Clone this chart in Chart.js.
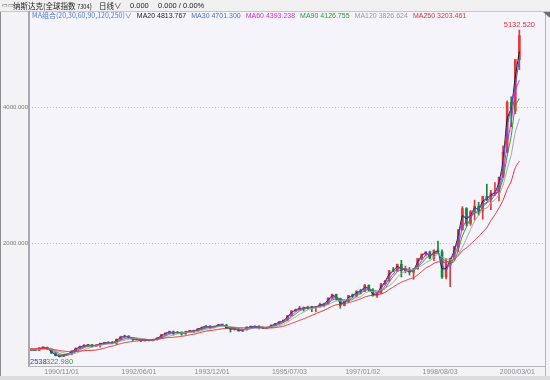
<!DOCTYPE html>
<html>
<head>
<meta charset="utf-8">
<script src="https://cdn.jsdelivr.net/npm/chart.js@4.4.1/dist/chart.umd.min.js"></script>
<style>
  html, body { margin: 0; padding: 0; background: #f3f3f6; }
  #wrap { position: relative; width: 550px; height: 380px; overflow: hidden; }
  canvas { position: absolute; left: 0; top: 0; }
  .t { position: absolute; white-space: nowrap; line-height: 1; font-family: "Liberation Sans", "Noto Sans CJK SC", sans-serif; }
  .cjk { font-family: "Noto Sans CJK SC", "Liberation Sans", sans-serif; }
  #legend { position: absolute; left: 32px; top: 12px; display: flex; gap: 5px; font-size: 7px; }
</style>
</head>
<body>
<div id="wrap">
  <canvas id="c" width="550" height="380"></canvas>
  <div class="t" style="left:2px;top:2px;font-size:6px;color:#666;">▭▭</div>
  <div class="t cjk" style="left:13px;top:1.5px;font-size:7.5px;color:#222;">纳斯达克(全球指数 <span style="font-size:5.5px">7304</span>)</div>
  <div class="t cjk" style="left:99px;top:1.5px;font-size:7.5px;color:#222;">日线∨</div>
  <div class="t" style="left:130px;top:2px;font-size:7.5px;color:#222;">0.000</div>
  <div class="t" style="left:158px;top:2px;font-size:7.5px;color:#222;">0.000 / 0.00%</div>
  <div id="legend" class="t"></div>
</div>
<script>
// monthly candles, 1990/03 .. 2000/03 (index 0 = 1990/03)
const opens = [426,436,420,459,462,438,381,345,330,359,374,414,453,482,485,506,476,502,526,527,543,524,
  586,620,633,604,579,585,564,581,563,583,605,653,677,696,671,690,661,701,704,705,743,763,779,754,777,
  800,793,743,734,735,706,722,766,764,777,750,752,755,794,817,844,865,933,1001,1020,1044,1036,1059,1052,
  1060,1100,1101,1191,1243,1185,1081,1142,1227,1222,1293,1291,1380,1309,1222,1261,1400,1442,1594,1587,
  1686,1594,1601,1570,1619,1771,1836,1868,1779,1895,1872,1499,1694,1771,1950,2193,2506,2288,2461,2543,
  2471,2686,2638,2739,2746,2966,3336,4069,3940,4697];
const highs = [440,441,460,470,470,440,385,352,362,378, 416,458,484,505,508,508,506,527,532,546,550,587,
  630,645,636,606,598,588,585,583,588,606,653,677, 705,706,700,692,702,710,714,743,765,787,782,778,
  802,804,805,747,740,742,725,766,775,780,780,757, 760,794,819,845,867,934,1005,1030,1070,1058,1072,1070,
  1062,1115,1110,1192,1250,1249,1190,1150,1230,1250,1295,1316, 1390,1383,1330,1265,1405,1450,1595,1640,1690,1745,1660,1640,
  1625,1775,1840,1872,1880,1900,2028,1900,1770,1780,1950,2200, 2535,2520,2480,2630,2600,2690,2865,2775,2890,2970,3430,4090,
  4150,4700,5132.52];
const lows = [420,416,418,455,430,375,340,322.98,328,358, 355,412,450,478,475,472,474,470,520,520,520,510,
  585,612,598,565,575,548,555,560,560,570,603,648, 670,645,668,645,660,688,682,704,735,760,736,752,
  770,785,740,690,718,705,696,720,760,755,737,740, 743,755,790,815,840,862,930,995,1015,1000,1025,990,
  988,1055,1060,1095,1180,1160,1042,1075,1130,1200,1210,1250, 1285,1290,1220,1201,1258,1385,1440,1580,1585,1500,1560,1530,
  1465,1615,1755,1810,1765,1740,1860,1480,1470,1357,1760,1870, 2190,2250,2260,2340,2410,2350,2620,2490,2700,2620,2960,3330,
  3710,3900,4550];
const closes = [436,420,459,462,438,381,345,330,359,374, 414,453,482,485,506,476,502,526,527,543,524,586,
  620,633,604,579,585,564,581,563,583,605,653,677, 696,671,690,661,701,704,705,743,763,779,754,777,
  800,793,743,734,735,706,722,766,764,777,750,752, 755,794,817,844,865,933,1001,1020,1044,1036,1059,1052,
  1060,1100,1101,1191,1243,1185,1081,1142,1227,1222,1293,1291, 1380,1309,1222,1261,1400,1442,1594,1587,1686,1594,1601,1570,
  1619,1771,1836,1868,1779,1895,1872,1499,1694,1771,1950,2193, 2506,2288,2461,2543,2471,2686,2638,2739,2746,2966,3336,4069,
  3940,4697,5049];

// moving averages read per month
const ma20 = [433,425,446,461,446,400,357,335,349,369, 401,440,472,484,499,486,493,518,527,538,530,565,
  609,629,614,587,583,571,575,569,576,598,637,669, 690,679,684,671,688,703,705,730,756,774,762,769,
  792,795,760,737,735,716,717,751,765,773,759,751, 754,781,809,835,858,910,978,1014,1036,1039,1051,1054,
  1057,1087,1101,1161,1226,1204,1116,1122,1199,1224,1269,1292, 1350,1333,1251,1248,1354,1428,1543,1589,1653,1625,1599,1580,
  1603,1720,1814,1857,1809,1856,1880,1623,1629,1745,1890,2112, 2402,2361,2403,2516,2495,2614,2654,2705,2744,2893,3213,3825,
  3983,4445,4813.767];
const ma30 = [431,428,440,461,450,410,363,338,345,367, 394,434,468,484,496,491,489,514,527,535,534,555,
  603,627,619,592,582,575,573,572,573,594,629,665, 687,684,681,676,681,703,705,724,753,771,767,766,
  789,797,768,739,735,721,714,744,765,771,764,751, 754,775,806,831,855,899,967,1011,1032,1040,1048,1056,
  1056,1080,1101,1146,1217,1214,1133,1112,1185,1225,1258,1292, 1336,1345,1266,1242,1331,1421,1518,1591,1637,1640,1598,1586,
  1595,1695,1804,1852,1824,1837,1884,1686,1597,1733,1861,2072, 2350,2397,2375,2502,2507,2579,2662,2689,2743,2856,3151,3703,
  4005,4319,4701.3];
const ma60 = [426,427,438,447,453,427,388,352,345,354, 382,414,450,473,491,489,495,501,518,532,531,551,
  577,613,619,605,589,576,577,569,576,584,614,645, 675,681,686,674,684,689,703,717,737,762,765,770,
  777,790,779,757,737,725,721,731,751,769,764,760, 752,767,789,818,842,881,933,985,1022,1033,1046,1049,
  1057,1071,1087,1131,1178,1206,1170,1136,1150,1197,1247,1269, 1321,1327,1304,1264,1294,1368,1479,1541,1622,1622,1627,1588,
  1597,1653,1742,1825,1828,1847,1849,1755,1688,1655,1805,1971, 2216,2329,2418,2431,2492,2567,2598,2688,2708,2817,3016,3457,
  3782,4235,4393.238];
const ma90 = [433,425,435,444,445,435,407,374,354,352, 369,400,431,459,482,487,492,503,508,525,530,545,
  568,591,611,609,600,583,577,573,573,583,601,630, 658,674,684,680,681,689,693,713,729,748,760,768,
  778,781,778,768,751,730,724,732,740,757,764,761, 759,763,780,803,830,865,911,955,1000,1025,1040,1048,
  1052,1068,1078,1113,1159,1180,1175,1163,1159,1168,1221,1258, 1297,1318,1301,1293,1298,1331,1424,1506,1577,1615,1617,1613,
  1596,1640,1699,1774,1814,1845,1854,1761,1740,1709,1729,1902, 2105,2234,2362,2450,2441,2540,2585,2634,2702,2772,2947,3279,
  3578,4011,4126.755];
const ma120 = [441,435,435,437,440,433,418,403,386,371, 367,379,402,428,452,469,484,496,504,513,516,535,
  554,572,585,591,601,598,591,579,576,580,592,610, 630,648,665,675,683,687,689,701,713,733,741,754,
  769,778,774,767,764,752,739,734,738,745,748,755, 761,765,774,785,805,835,876,913,951,983,1016,1035,
  1045,1059,1068,1094,1125,1147,1150,1157,1178,1183,1192,1209, 1259,1287,1286,1293,1311,1336,1371,1418,1495,1551,1584,1605,
  1610,1640,1665,1711,1741,1795,1837,1792,1768,1752,1780,1830, 1936,2067,2195,2324,2410,2493,2515,2590,2637,2708,2852,3082,
  3299,3626,3826.624];
const ma250 = [446,445,446,449,447,440,429,419,411,404, 404,406,410,415,419,420,426,438,453,471,484,502,
  519,534,544,552,559,566,573,576,580,586,596,604, 610,613,621,627,637,649,659,674,689,704,712,720,
  729,739,744,750,753,753,754,756,756,756,756,754, 750,750,756,765,776,795,818,839,863,884,910,935,
  960,986,1010,1039,1070,1091,1098,1108,1123,1139,1158,1178, 1205,1222,1232,1238,1251,1273,1315,1352,1391,1422,1447,1471,
  1490,1529,1580,1631,1662,1700,1723,1716,1717,1731,1760,1812, 1886,1929,1981,2038,2095,2161,2225,2328,2416,2516,2631,2787,
  2907,3108,3203.461];

const tickIdx = [8, 27, 45, 64, 82, 101, 120];
const tickLabels = ['1990/11/01', '1992/06/01', '1993/12/01', '1995/07/03', '1997/01/02', '1998/08/03', '2000/03/01'];
const yTicks = [2000, 4000];

const maNames = ['MA20', 'MA30', 'MA60', 'MA90', 'MA120', 'MA250'];
const maSeries = [ma20, ma30, ma60, ma90, ma120, ma250];
const maColors = ['#1a1a1a', '#3b63d8', '#e01ee0', '#1f9e2a', '#a4a4a4', '#e2343c'];
const maTextColors = ['#222222', '#4a6fcc', '#d52bd5', '#2a962a', '#999999', '#e0303a'];

const UP = '#e4393c', DOWN = '#0c8a3a';
const xs = closes.map((c, i) => i + 0.5);
const candleColors = closes.map((c, i) => c >= opens[i] ? UP : DOWN);

// legend line
const legend = document.getElementById('legend');
const head = document.createElement('span');
head.className = 'cjk';
head.style.color = '#5577c8';
head.textContent = 'MA组合(20,30,60,90,120,250)∨';
legend.appendChild(head);
maNames.forEach((n, k) => {
  const s = document.createElement('span');
  s.style.color = maTextColors[k];
  s.textContent = n + ' ' + maSeries[k][maSeries[k].length - 1].toFixed(3);
  legend.appendChild(s);
});

const frame = {
  id: 'frame',
  beforeDraw(chart) {
    const {ctx, chartArea: a, width, height} = chart;
    ctx.save();
    ctx.fillStyle = '#f3f3f6';
    ctx.fillRect(0, 0, width, height);
    ctx.fillStyle = '#f0f0f0';
    ctx.fillRect(0, 0, width, 11);
    ctx.fillStyle = '#f5f4fa';
    ctx.fillRect(a.left, a.top, a.right - a.left, a.bottom - a.top);
    ctx.fillStyle = '#dcdcde';
    ctx.fillRect(0, 376, width, 4);
    // dotted price lines
    const y = chart.scales.y;
    ctx.strokeStyle = '#c2c2cc';
    ctx.lineWidth = 1;
    ctx.setLineDash([1, 2]);
    yTicks.forEach(v => {
      const py = Math.round(y.getPixelForValue(v)) + 0.5;
      ctx.beginPath();
      ctx.moveTo(a.left, py);
      ctx.lineTo(a.right, py);
      ctx.stroke();
    });
    ctx.restore();
  },
  afterDraw(chart) {
    const {ctx, chartArea: a, width} = chart;
    const x = chart.scales.x, y = chart.scales.y;
    ctx.save();
    // frame lines
    ctx.strokeStyle = '#c6c6c8';
    ctx.lineWidth = 1;
    ctx.beginPath(); ctx.moveTo(0, 11.5); ctx.lineTo(width, 11.5); ctx.stroke();
    ctx.strokeStyle = '#a9a9b2';
    ctx.lineWidth = 2;
    ctx.beginPath(); ctx.moveTo(a.left, a.top); ctx.lineTo(a.left, a.bottom + 1); ctx.stroke();
    ctx.lineWidth = 1;
    ctx.strokeStyle = '#b4b4bc';
    ctx.beginPath(); ctx.moveTo(a.left, a.bottom + 0.5); ctx.lineTo(a.right, a.bottom + 0.5); ctx.stroke();
    ctx.beginPath(); ctx.moveTo(a.right + 0.5, a.top); ctx.lineTo(a.right + 0.5, 376); ctx.stroke();
    ctx.strokeStyle = '#8c8c90';
    ctx.beginPath(); ctx.moveTo(0.5, 12); ctx.lineTo(0.5, 376); ctx.stroke();
    ctx.fillStyle = '#6e6e72';
    ctx.beginPath(); ctx.moveTo(543, 12); ctx.lineTo(550, 12); ctx.lineTo(550, 18); ctx.closePath(); ctx.fill();

    // axis labels
    ctx.textBaseline = 'middle';
    ctx.font = '7px "Liberation Sans", sans-serif';
    ctx.fillStyle = '#8a8a8e';
    ctx.textAlign = 'center';
    tickIdx.forEach((v, k) => ctx.fillText(tickLabels[k], x.getPixelForValue(v), a.bottom + 6.5));
    ctx.font = '6px "Liberation Sans", sans-serif';
    ctx.fillStyle = '#777';
    ctx.textAlign = 'right';
    yTicks.forEach(v => ctx.fillText(v.toFixed(3), a.left - 1, y.getPixelForValue(v)));

    // extreme labels
    const hi = Math.max(...highs), hiI = highs.indexOf(hi);
    const lo = Math.min(...lows), loI = lows.indexOf(lo);
    ctx.font = '7.5px "Liberation Sans", sans-serif';
    ctx.textAlign = 'center';
    ctx.fillStyle = '#d8303c';
    ctx.fillText(hi.toFixed(3), x.getPixelForValue(xs[hiI]), y.getPixelForValue(hi) - 5);
    ctx.textAlign = 'left';
    ctx.fillStyle = '#3a3a8c';
    ctx.fillText(String(closes.length * 21 - 3), a.left + 1, y.getPixelForValue(lo) + 5);
    ctx.textAlign = 'center';
    ctx.fillStyle = '#2f9a3a';
    ctx.fillText(lo.toFixed(3), x.getPixelForValue(xs[loI]), y.getPixelForValue(lo) + 5);
    ctx.restore();
  }
};

const datasets = [
  {
    type: 'bar',
    data: xs.map((v, i) => ({x: v, y: [lows[i], highs[i]]})),
    backgroundColor: candleColors,
    barThickness: 1,
    grouped: false,
    order: 20
  },
  {
    type: 'bar',
    data: xs.map((v, i) => ({x: v, y: [Math.min(opens[i], closes[i]), Math.max(opens[i], closes[i])]})),
    backgroundColor: candleColors,
    barThickness: 2,
    minBarLength: 1,
    grouped: false,
    order: 19
  }
];
maSeries.forEach((s, k) => {
  datasets.push({
    type: 'line',
    data: xs.map((v, i) => ({x: v, y: s[i]})),
    borderColor: maColors[k],
    borderWidth: 1,
    pointRadius: 0,
    tension: 0.2,
    order: 6 - k
  });
});

new Chart(document.getElementById('c'), {
  type: 'bar',
  data: { datasets: datasets },
  options: {
    responsive: false,
    animation: false,
    events: [],
    layout: { padding: { top: 11, right: 5, left: 0, bottom: 0 } },
    plugins: { legend: { display: false }, tooltip: { enabled: false } },
    scales: {
      x: {
        type: 'linear',
        offset: false,
        min: 0,
        max: 126.8,
        grid: { display: false },
        border: { display: false },
        afterBuildTicks: s => { s.ticks = tickIdx.map(v => ({value: v})); },
        afterFit: s => { s.height = 14; },
        ticks: { display: false }
      },
      y: {
        min: 191,
        max: 5412,
        grid: { display: false },
        border: { display: false },
        afterBuildTicks: s => { s.ticks = yTicks.map(v => ({value: v})); },
        afterFit: s => { s.width = 29; },
        ticks: { display: false }
      }
    }
  },
  plugins: [frame]
});
</script>
</body>
</html>
